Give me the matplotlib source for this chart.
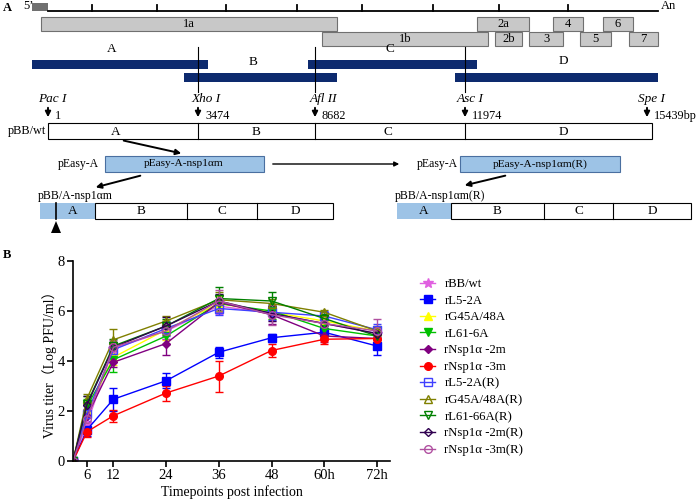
import numpy as np
import matplotlib
matplotlib.use("Agg")
import matplotlib.pyplot as plt
from matplotlib.patches import Rectangle, Polygon

plt.rcParams['font.family'] = ['Liberation Serif', 'Noto Sans CJK SC']

# -----------------------------------
# Data for panel B (virus titer, log PFU/ml)
# -----------------------------------
hours = [0, 6, 12, 24, 36, 48, 60, 72]
hour_labels = ["6", "12", "24", "36", "48", "60h", "72h"]

strains = ["rBB/wt", "rL5-2A", "rG45A/48A", "rL61-6A", "rNsp1α -2m", "rNsp1α -3m",
           "rL5-2A(R)", "rG45A/48A(R)", "rL61-66A(R)", "rNsp1α -2m(R)", "rNsp1α -3m(R)"]

titer_wt = [0, 1.5, 4.5, 5.2, 6.2, 5.9, 5.5, 5.1]
titer_l52a = [0, 1.25, 2.47, 3.21, 4.35, 4.93, 5.15, 4.6]
titer_g45a = [0, 2.0, 4.15, 5.25, 6.3, 5.95, 5.6, 5.2]
titer_l616a = [0, 2.2, 4.05, 5.0, 6.3, 6.0, 5.3, 5.0]
titer_2m = [0, 1.8, 3.95, 4.7, 6.35, 5.85, 5.0, 4.9]
titer_3m = [0, 1.17, 1.81, 2.72, 3.4, 4.42, 4.87, 4.9]
titer_l52a_r = [0, 1.9, 4.45, 5.3, 6.1, 5.95, 5.8, 5.25]
titer_g45a_r = [0, 2.5, 4.85, 5.6, 6.45, 6.3, 5.95, 5.2]
titer_l616a_r = [0, 2.3, 4.6, 5.4, 6.5, 6.4, 5.7, 5.0]
titer_2m_r = [0, 2.25, 4.55, 5.4, 6.4, 5.9, 5.5, 5.1]
titer_3m_r = [0, 1.7, 4.55, 5.2, 6.4, 5.85, 5.5, 5.2]

err_wt = [0, 0.3, 0.25, 0.3, 0.3, 0.3, 0.25, 0.2]
err_l52a = [0, 0.25, 0.45, 0.3, 0.22, 0.15, 0.15, 0.35]
err_g45a = [0, 0.25, 0.3, 0.4, 0.3, 0.25, 0.2, 0.2]
err_l616a = [0, 0.3, 0.5, 0.3, 0.35, 0.3, 0.2, 0.25]
err_2m = [0, 0.3, 0.2, 0.45, 0.3, 0.35, 0.25, 0.2]
err_3m = [0, 0.2, 0.25, 0.3, 0.62, 0.25, 0.2, 0.2]
err_l52a_r = [0, 0.3, 0.3, 0.3, 0.25, 0.3, 0.2, 0.25]
err_g45a_r = [0, 0.2, 0.45, 0.2, 0.3, 0.2, 0.1, 0.15]
err_l616a_r = [0, 0.3, 0.3, 0.3, 0.45, 0.35, 0.2, 0.25]
err_2m_r = [0, 0.35, 0.2, 0.35, 0.3, 0.3, 0.2, 0.2]
err_3m_r = [0, 0.35, 0.3, 0.3, 0.45, 0.4, 0.25, 0.5]

titers = [titer_wt, titer_l52a, titer_g45a, titer_l616a, titer_2m, titer_3m,
          titer_l52a_r, titer_g45a_r, titer_l616a_r, titer_2m_r, titer_3m_r]
errors = [err_wt, err_l52a, err_g45a, err_l616a, err_2m, err_3m,
          err_l52a_r, err_g45a_r, err_l616a_r, err_2m_r, err_3m_r]

colors = ["#e060e0", "#0000ff", "#ffff00", "#00c000", "#800080", "#ff0000",
          "#4040ff", "#808000", "#008000", "#300050", "#b050a0"]
markers = ["*", "s", "^", "v", "D", "o", "s", "^", "v", "D", "o"]
filled = [True, True, True, True, True, True, False, False, False, False, False]

fig = plt.figure(figsize=(6.96, 4.99), dpi=100)

# -----------------------------------
# Panel A: schematic, drawn in pixel coordinates
# -----------------------------------
axA = fig.add_axes([0, 0, 1, 1])
axA.set_xlim(0, 696)
axA.set_ylim(499, 0)
axA.axis("off")

fs = 8.5
axA.text(3, 8, "A", fontsize=9, fontweight="bold", va="center")
axA.text(23, 6, "5’", fontsize=9, va="center")
axA.text(661, 6, "An", fontsize=9, va="center")
axA.add_patch(Rectangle((32, 3), 16, 8, fc="#707070", ec="none"))
axA.plot([48, 658], [11, 11], color="black", lw=1.3)
for tx in [92, 157, 226, 297, 362, 433, 499, 568]:
    axA.plot([tx, tx], [5, 11], color="black", lw=1.3)

# ORF boxes
orfs = [("1a", 41, 337, 17), ("1b", 322, 488, 32), ("2a", 477, 529, 17),
        ("2b", 495, 522, 32), ("3", 529, 563, 32), ("4", 553, 583, 17),
        ("5", 580, 611, 32), ("6", 603, 633, 17), ("7", 629, 658, 32)]
for name, x1, x2, y1 in orfs:
    axA.add_patch(Rectangle((x1, y1), x2 - x1, 14, fc="#c8c8c8", ec="#707070", lw=0.8))
    axA.text((x1 + x2) / 2, y1 + 7, name, fontsize=9, ha="center", va="center")

# Fragment bars
navy = "#0d2a6e"
frags = [("A", 32, 208, 60, 112, 55), ("B", 184, 337, 73, 253, 68),
         ("C", 308, 477, 60, 390, 55), ("D", 455, 658, 73, 563, 67)]
for name, x1, x2, y1, lx, ly in frags:
    axA.add_patch(Rectangle((x1, y1), x2 - x1, 9, fc=navy, ec="none"))
    axA.text(lx, ly, name, fontsize=9.5, ha="center", va="bottom")

sites = [198, 315, 465]
for sx in sites:
    axA.plot([sx, sx], [47, 92], color="black", lw=0.8)

enzymes = [("Pac I", 52, "1", 48), ("Xho I", 206, "3474", 198),
           ("Afl II", 323, "8682", 315), ("Asc I", 470, "11974", 465),
           ("Spe I", 651, "15439bp", 647)]
for ename, ex, num, ax_ in enzymes:
    axA.text(ex, 99, ename, fontsize=9.5, style="italic", ha="center", va="center")
    axA.annotate("", xy=(ax_, 120), xytext=(ax_, 105),
                 arrowprops=dict(arrowstyle="-|>", color="black", lw=1.4, mutation_scale=8))
    axA.text(ax_ + 7, 116, num, fontsize=8.8, ha="left", va="center")

# pBB/wt
axA.add_patch(Rectangle((48, 123), 604, 16, fc="white", ec="black", lw=0.8))
for sx in sites:
    axA.plot([sx, sx], [123, 139], color="black", lw=0.8)
for name, lx in zip("ABCD", [116, 256, 388, 563]):
    axA.text(lx, 132, name, fontsize=9.5, ha="center", va="center")
axA.text(8, 131, "pBB/wt", fontsize=8.8, ha="left", va="center")

lightblue = "#9dc3e6"
# pEasy boxes
axA.text(58, 164, "pEasy-A", fontsize=fs, ha="left", va="center")
axA.add_patch(Rectangle((105, 156), 159, 16, fc=lightblue, ec="#4a6fa0", lw=0.8))
axA.text(184, 164, "pEasy-A-nsp1αm", fontsize=8.2, ha="center", va="center")
axA.text(417, 164, "pEasy-A", fontsize=fs, ha="left", va="center")
axA.add_patch(Rectangle((460, 156), 160, 16, fc=lightblue, ec="#4a6fa0", lw=0.8))
axA.text(540, 164, "pEasy-A-nsp1αm(R)", fontsize=8.2, ha="center", va="center")

arrow_kw = dict(arrowstyle="-|>", color="black", lw=1.4, mutation_scale=8)
axA.annotate("", xy=(184, 154), xytext=(121, 140), arrowprops=arrow_kw)
axA.annotate("", xy=(402, 164), xytext=(270, 164),
             arrowprops=dict(arrowstyle="-|>", color="black", lw=1.0, mutation_scale=7))
axA.annotate("", xy=(93, 188), xytext=(143, 175), arrowprops=arrow_kw)
axA.annotate("", xy=(462, 186), xytext=(508, 175), arrowprops=arrow_kw)

# Recombinant constructs
axA.text(38, 196, "pBB/A-nsp1αm", fontsize=fs, ha="left", va="center")
axA.text(395, 196, "pBB/A-nsp1αm(R)", fontsize=fs, ha="left", va="center")
for bx, cuts in [(40, [95, 187, 257, 333]), (397, [451, 544, 613, 691])]:
    axA.add_patch(Rectangle((bx, 203), cuts[0] - bx, 16, fc=lightblue, ec="none"))
    axA.add_patch(Rectangle((cuts[0], 203), cuts[-1] - cuts[0], 16, fc="none", ec="black", lw=0.8))
    for cx in cuts[1:-1]:
        axA.plot([cx, cx], [203, 219], color="black", lw=0.8)
    edges = [bx] + cuts
    for name, l, r in zip("ABCD", edges[:-1], edges[1:]):
        axA.text((l + r) / 2 + (5 if name == "A" and bx == 40 else 0), 211, name,
                 fontsize=9.5, ha="center", va="center")
axA.plot([56, 56], [203, 219], color="black", lw=1.2)
axA.add_patch(Polygon([[51, 233], [61, 233], [56, 221]], closed=True, fc="black", ec="none"))

axA.text(3, 255, "B", fontsize=9, fontweight="bold", va="center")

# -----------------------------------
# Panel B: growth curves
# -----------------------------------
x0 = 2.81


def fwd(x):
    x = np.asarray(x, dtype=float)
    return np.where(x < 6, x0 + x * (6 - x0) / 6, x)


def inv(t):
    t = np.asarray(t, dtype=float)
    return np.where(t < 6, (t - x0) * 6 / (6 - x0), t)


ax = fig.add_axes([73 / 696, 1 - 461 / 499, (390 - 73) / 696, 200 / 499])
ax.patch.set_alpha(0)
ax.set_xscale("function", functions=(fwd, inv))

handles = []
for name, y, e, c, m, f in zip(strains, titers, errors, colors, markers, filled):
    ms = 7.5 if m == "*" else (4.5 if m == "D" else 5.5)
    cont = ax.errorbar(hours, y, yerr=e, color=c, marker=m, markersize=ms, lw=1.0,
                       elinewidth=1.0, capsize=3, capthick=1.0,
                       markerfacecolor=c if f else "none", markeredgecolor=c,
                       markeredgewidth=1.0, label=name)
    handles.append(cont.lines[0])

ax.set_xlim(0, 74.96)
ax.set_ylim(0, 8)
ax.set_xticks(hours[1:])
ax.set_xticklabels(hour_labels)
ax.set_yticks([0, 2, 4, 6, 8])
ax.spines["top"].set_visible(False)
ax.spines["right"].set_visible(False)
ax.spines["left"].set_linewidth(1.2)
ax.spines["bottom"].set_linewidth(1.2)
ax.tick_params(axis="both", direction="out", length=4, width=1.2, labelsize=10.5, pad=2)
ax.set_ylabel("Virus titer（Log PFU/ml）", fontsize=10, labelpad=0)
ax.set_xlabel("Timepoints post infection", fontsize=10, labelpad=2)

fig.legend(handles, strains, loc="upper left", bbox_to_anchor=(420 / 696, 1 - 278 / 499),
           frameon=False, fontsize=9.2, borderpad=0, borderaxespad=0,
           labelspacing=0.36, handlelength=1.2, handletextpad=0.7)

plt.savefig("out.png", dpi=100)
plt.close()
